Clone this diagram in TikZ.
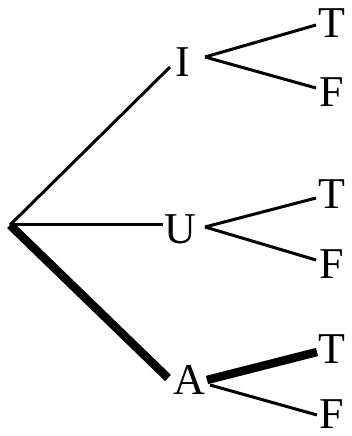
\documentclass[tikz,border=0pt]{standalone}
\usepackage{fontspec}
\newfontfamily\treefont{Liberation Serif}
\begin{document}
\begin{tikzpicture}[x=1pt,y=1pt,
  lbl/.style={inner sep=0pt, font=\treefont\fontsize{44}{44}\selectfont},
  thin edge/.style={line width=3pt},
  bold edge/.style={line width=8.5pt}]
\useasboundingbox (0,0) rectangle (351,436);
\coordinate (root) at (10,211);
% middle level
\node[lbl] (I) at (183,374) {I};
\node[lbl] (U) at (180,207) {U};
\node[lbl] (A) at (189,56) {A};
% leaves
\node[lbl] (T1) at (332,413) {T};
\node[lbl] (F1) at (332,344) {F};
\node[lbl] (T2) at (332,242) {T};
\node[lbl] (F2) at (332,172) {F};
\node[lbl] (T3) at (332,87) {T};
\node[lbl] (F3) at (332,22) {F};
% first level edges
\draw[thin edge] (root) -- ([shift={(-13,-5)}]I.center);
\draw[thin edge] (root) -- ([shift={(-17,4)}]U.center);
\draw[bold edge] (root) -- ([shift={(-21,2)}]A.center);
% second level edges
\draw[thin edge] ([shift={(22,5)}]I.center) -- ([shift={(-16,-2)}]T1.center);
\draw[thin edge] ([shift={(22,5)}]I.center) -- ([shift={(-16,4)}]F1.center);
\draw[thin edge] ([shift={(25,2)}]U.center) -- ([shift={(-16,-4)}]T2.center);
\draw[thin edge] ([shift={(25,2)}]U.center) -- ([shift={(-16,4)}]F2.center);
\draw[bold edge] ([shift={(18,0)}]A.center) -- ([shift={(-15,-3)}]T3.center);
\draw[thin edge] ([shift={(21,-5)}]A.center) -- ([shift={(-15,-1)}]F3.center);
\end{tikzpicture}
\end{document}
